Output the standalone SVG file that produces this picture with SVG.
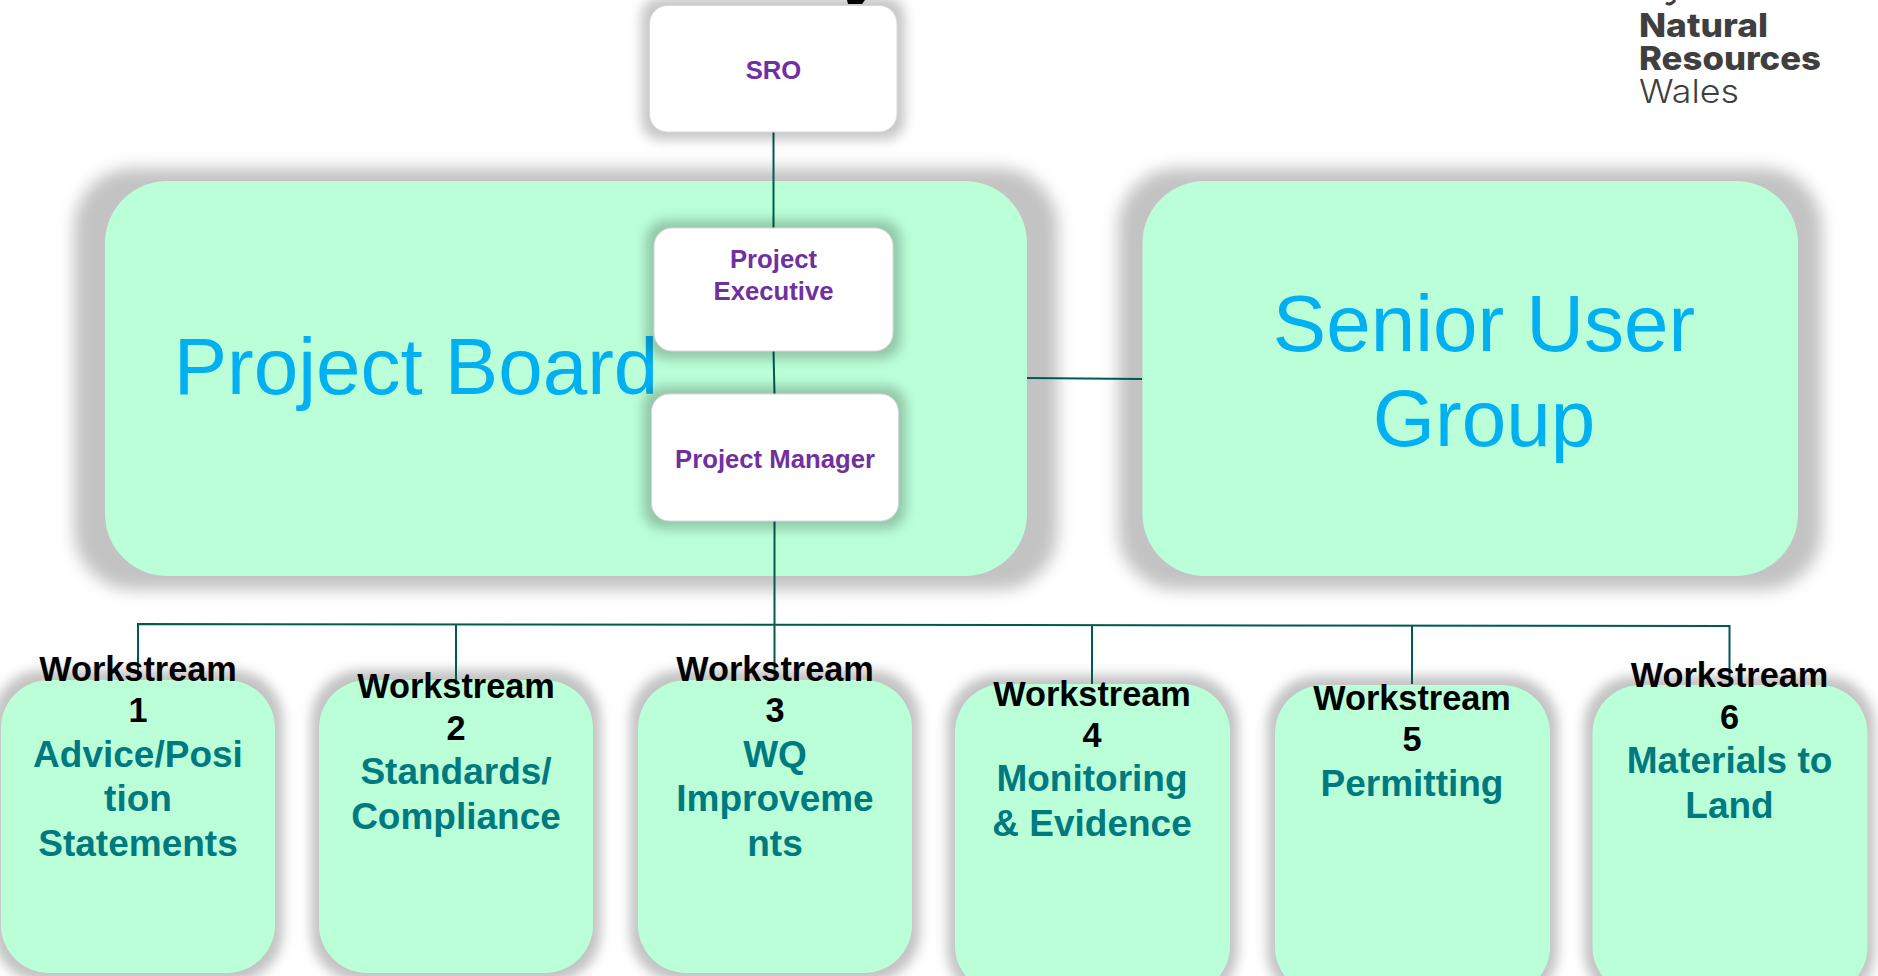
<svg xmlns="http://www.w3.org/2000/svg" width="1878" height="976" viewBox="0 0 1878 976">
<defs>
<filter id="sBig" filterUnits="userSpaceOnUse" x="0" y="100" width="1878" height="560"><feGaussianBlur stdDeviation="8"/></filter>
<filter id="sMid" filterUnits="userSpaceOnUse" x="-60" y="620" width="2000" height="420"><feGaussianBlur stdDeviation="6"/></filter>
<filter id="sSmall" filterUnits="userSpaceOnUse" x="600" y="-60" width="360" height="640"><feGaussianBlur stdDeviation="6"/></filter>
</defs>
<style>
text{font-family:"Liberation Sans",Arial,sans-serif;text-anchor:middle}
.big{fill:#baffd8}
.shB{fill:#c3c3c3;filter:url(#sBig)}
.shM{fill:#c3c3c3;filter:url(#sMid)}
.shS{fill:#000;fill-opacity:.22;filter:url(#sSmall)}
.wb{fill:#fff;stroke:#d8d8d8;stroke-width:1}
.title{font-size:80px;fill:#00b0f0}
.p{font-size:25.7px;font-weight:700;fill:#7030a0}
.ws{font-size:34.300px;font-weight:700;fill:#000}
.t{font-size:37px;font-weight:700;fill:#007a7f}
.c{fill:none;stroke:#005a4e;stroke-width:2}
.logo{font-family:Inter,"Liberation Sans",sans-serif;fill:#3f3f3f;text-anchor:start;font-size:33px}
.frag{fill:#000}
</style>
<rect width="1878" height="976" fill="#fff"/>
<g id="board">
<rect class="shB" x="74" y="168" width="984" height="422" rx="60"/>
<rect class="big" x="105" y="181" width="922" height="395" rx="62"/>
<text class="title" x="416" y="394">Project Board</text>
</g>
<g id="senior-user-group">
<rect class="shB" x="1118" y="168" width="704" height="422" rx="60"/>
<rect class="big" x="1142.500" y="181" width="655.500" height="395" rx="62"/>
<text class="title" x="1484" y="351">Senior User</text>
<text class="title" x="1484" y="446">Group</text>
</g>
<g id="ws-shadows">
<rect class="shM" x="-7" y="670" width="290" height="312" rx="50"/>
<rect class="shM" x="311" y="670" width="290" height="312" rx="50"/>
<rect class="shM" x="630" y="670" width="290" height="312" rx="50"/>
<rect class="shM" x="947" y="675" width="291" height="325" rx="50"/>
<rect class="shM" x="1267" y="676" width="291" height="325" rx="50"/>
<rect class="shM" x="1584" y="676" width="291" height="325" rx="50"/>
</g>
<g id="connectors">
<path class="c" d="M773.500 132V228"/>
<path class="c" d="M773.500 351L774.500 394"/>
<path class="c" d="M774.500 521V680"/>
<path class="c" d="M1027 378L1142 379"/>
<path class="c" d="M138 680V624L1729.500 626V686"/>
<path class="c" d="M456 625V680"/>
<path class="c" d="M1092 625.500V685"/>
<path class="c" d="M1412 626V684"/>
</g>
<g id="sro">
<rect class="shS" x="641" y="-3" width="264" height="143" rx="20"/>
<rect class="wb" x="649.500" y="5.500" width="247.500" height="126.500" rx="18"/>
<text class="p" x="773.500" y="79">SRO</text>
</g>
<g id="project-executive">
<rect class="shS" x="646" y="220" width="255" height="139" rx="20"/>
<rect class="wb" x="654" y="228" width="239" height="123" rx="18"/>
<text class="p" x="773.500" y="268">Project</text>
<text class="p" x="773.500" y="300">Executive</text>
</g>
<g id="project-manager">
<rect class="shS" x="643" y="386" width="263" height="143" rx="20"/>
<rect class="wb" x="651.500" y="394" width="247" height="127" rx="18"/>
<text class="p" x="775" y="468">Project Manager</text>
</g>
<g id="workstream-1">
<rect class="big" x="1" y="680" width="274" height="293" rx="48"/>
<text class="ws" x="138" y="681">Workstream</text><text class="ws" x="138" y="722">1</text>
<text class="t" x="138" y="767">Advice/Posi</text><text class="t" x="138" y="811">tion</text><text class="t" x="138" y="856">Statements</text>
</g>
<g id="workstream-2">
<rect class="big" x="319" y="680" width="274" height="293" rx="48"/>
<text class="ws" x="456" y="698">Workstream</text><text class="ws" x="456" y="740">2</text>
<text class="t" x="456" y="784">Standards/</text><text class="t" x="456" y="829">Compliance</text>
</g>
<g id="workstream-3">
<rect class="big" x="638" y="680" width="274" height="293" rx="48"/>
<text class="ws" x="775" y="681">Workstream</text><text class="ws" x="775" y="722">3</text>
<text class="t" x="775" y="767">WQ</text><text class="t" x="775" y="811">Improveme</text><text class="t" x="775" y="856">nts</text>
</g>
<g id="workstream-4">
<rect class="big" x="955" y="684" width="275" height="310" rx="48"/>
<text class="ws" x="1092" y="706">Workstream</text><text class="ws" x="1092" y="747">4</text>
<text class="t" x="1092" y="791">Monitoring</text><text class="t" x="1092" y="836">&amp; Evidence</text>
</g>
<g id="workstream-5">
<rect class="big" x="1275" y="685" width="275" height="310" rx="48"/>
<text class="ws" x="1412" y="710">Workstream</text><text class="ws" x="1412" y="751">5</text>
<text class="t" x="1412" y="796">Permitting</text>
</g>
<g id="workstream-6">
<rect class="big" x="1592.500" y="685" width="275" height="310" rx="48"/>
<text class="ws" x="1729.500" y="687">Workstream</text><text class="ws" x="1729.500" y="729">6</text>
<text class="t" x="1729.500" y="773">Materials to</text><text class="t" x="1729.500" y="818">Land</text>
</g>
<g id="logo">
<text class="logo" x="1639" y="37" font-weight="800" textLength="129" lengthAdjust="spacingAndGlyphs">Natural</text>
<text class="logo" x="1639" y="70" font-weight="800" textLength="182" lengthAdjust="spacingAndGlyphs">Resources</text>
<text class="logo" x="1639" y="103" font-weight="300" textLength="100" lengthAdjust="spacingAndGlyphs">Wales</text>
</g>
<g id="cropped-marks">
<path class="frag" d="M847 0H865L862 4H848Z"/>
<path d="M1666 3Q1671 6 1675 0" fill="none" stroke="#3f3f3f" stroke-width="3"/>
</g>
</svg>
